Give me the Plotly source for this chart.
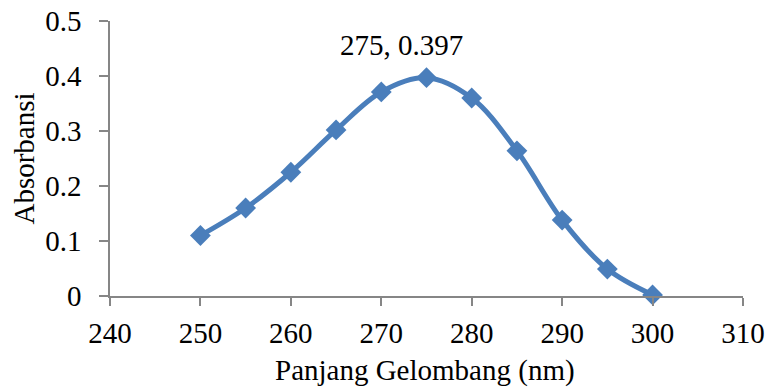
import plotly.graph_objects as go

wavelength = [250, 255, 260, 265, 270, 275, 280, 285, 290, 295, 300]
absorbance = [0.110, 0.160, 0.225, 0.302, 0.371, 0.397, 0.360, 0.264, 0.138, 0.049, 0.002]
x_ticks = [240, 250, 260, 270, 280, 290, 300, 310]
y_ticks = [0, 0.1, 0.2, 0.3, 0.4, 0.5]
y_tick_labels = ["0", "0.1", "0.2", "0.3", "0.4", "0.5"]
peak_label = "275, 0.397"
x_title = "Panjang Gelombang (nm)"
y_title = "Absorbansi"

FONT = "Liberation Serif"
BLUE = "#4A7EBB"
AXIS = "#868686"
FS = 29
FS_T = 29

fig = go.Figure()
fig.add_trace(go.Scatter(
    x=wavelength, y=absorbance, mode="lines+markers",
    line=dict(color=BLUE, width=5, shape="spline", smoothing=1.0),
    marker=dict(symbol="diamond", size=16, color=BLUE),
    cliponaxis=False, showlegend=False, hoverinfo="x+y",
))

fig.add_annotation(x=wavelength[5], y=absorbance[5], text=peak_label, showarrow=False,
                   xanchor="center", yanchor="middle", xshift=-25, yshift=33,
                   font=dict(family=FONT, size=FS_T, color="black"))
fig.add_annotation(x=0.4976, y=-0.2727, xref="paper", yref="paper", text=x_title,
                   showarrow=False, xanchor="center", yanchor="middle",
                   font=dict(family=FONT, size=FS_T, color="black"))
fig.add_annotation(x=-0.1374, y=0.5, xref="paper", yref="paper", text=y_title,
                   showarrow=False, xanchor="center", yanchor="middle", textangle=-90,
                   font=dict(family=FONT, size=FS_T, color="black"))

fig.update_layout(
    width=767, height=389,
    margin=dict(l=110, r=24, t=21, b=93, autoexpand=False),
    paper_bgcolor="white", plot_bgcolor="white",
    font=dict(family=FONT, size=FS, color="black"),
    xaxis=dict(range=[240, 310], tickvals=x_ticks, showgrid=False, zeroline=False,
               automargin=False,
               showline=True, linecolor=AXIS, linewidth=1.5,
               ticks="outside", ticklen=8, tickcolor=AXIS, tickwidth=1.5,
               ticklabelstandoff=2,
               tickfont=dict(family=FONT, size=FS, color="black")),
    yaxis=dict(range=[0, 0.5], tickvals=y_ticks, ticktext=y_tick_labels,
               showgrid=False, zeroline=False, automargin=False,
               showline=True, linecolor=AXIS, linewidth=1.5,
               ticks="outside", ticklen=9, tickcolor=AXIS, tickwidth=1.5,
               ticklabelstandoff=12,
               tickfont=dict(family=FONT, size=FS, color="black")),
)

# remove the browser's default 8px body margin so the figure fills the window
fig.write_html("out.html", config={"displayModeBar": False},
               post_script="document.body.style.margin='0';")
